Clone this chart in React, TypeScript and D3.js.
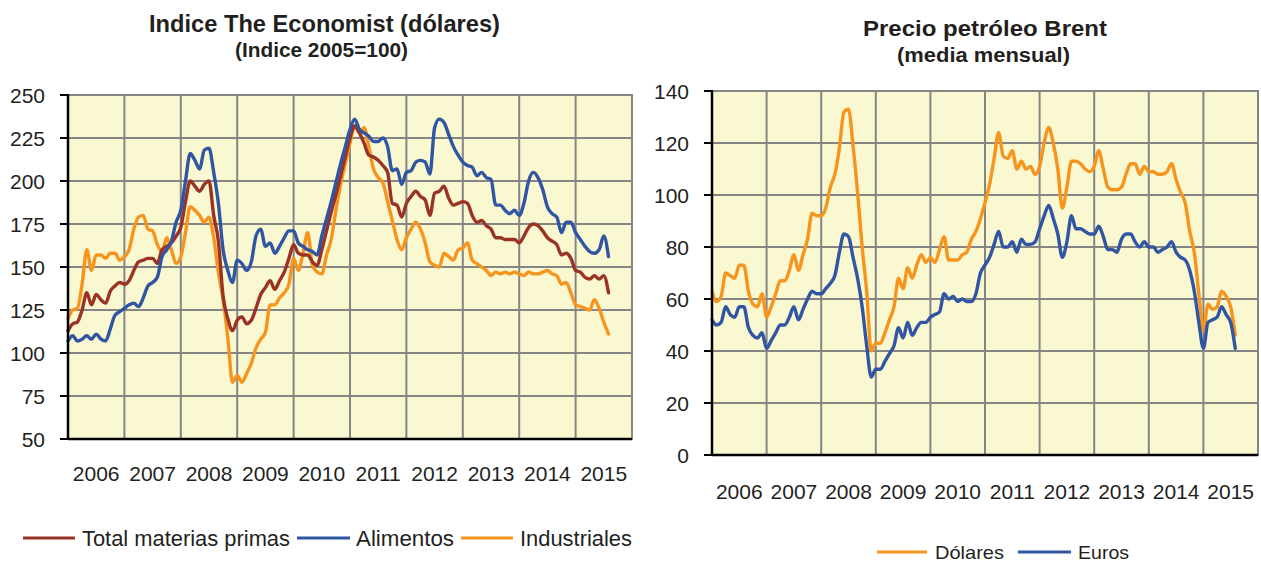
import React from "react";
import * as d3 from "d3";

// Monthly data, Jan 2006 – Aug 2015
const years = ["2006", "2007", "2008", "2009", "2010", "2011", "2012", "2013", "2014", "2015"];
const leftTicks = [50, 75, 100, 125, 150, 175, 200, 225, 250];
const rightTicks = [0, 20, 40, 60, 80, 100, 120, 140];

const totalMP = [113, 117, 118, 125, 135, 128, 134, 131, 129, 136, 139, 141, 140, 142, 148, 153, 154, 155, 155, 152, 160, 162, 164, 168, 173, 188, 200, 197, 194, 198, 200, 180, 165, 133, 120, 113, 119, 121, 117, 119, 126, 134, 138, 142, 137, 142, 147, 155, 163, 158, 157, 157, 153, 151, 160, 171, 182, 192, 203, 214, 225, 232, 228, 222, 215, 214, 212, 209, 205, 187, 186, 179, 187, 191, 194, 191, 189, 180, 193, 194, 197, 190, 186, 187, 188, 187, 180, 176, 177, 174, 172, 167, 167, 166, 166, 166, 164, 168, 173, 175, 174, 171, 167, 165, 163, 157, 158, 155, 148, 147, 144, 143, 145, 143, 145, 135];
const alimentos = [107, 110, 107, 108, 110, 108, 111, 108, 107, 114, 122, 124, 126, 128, 129, 127, 132, 139, 141, 144, 156, 160, 165, 176, 183, 200, 216, 212, 207, 218, 219, 205, 187, 160, 148, 141, 154, 152, 148, 153, 168, 172, 162, 164, 158, 162, 167, 171, 171, 164, 162, 160, 159, 157, 168, 178, 188, 199, 210, 220, 230, 236, 230, 228, 226, 223, 223, 225, 220, 206, 207, 198, 205, 206, 211, 212, 211, 204, 231, 236, 234, 227, 220, 215, 211, 209, 208, 203, 205, 202, 201, 186, 186, 183, 181, 183, 180, 187, 200, 205, 202, 195, 185, 181, 179, 170, 176, 176, 170, 166, 162, 159, 158, 160, 168, 156];
const industriales = [120, 125, 126, 140, 160, 148, 157, 157, 155, 158, 158, 154, 156, 160, 172, 179, 180, 172, 171, 163, 159, 167, 160, 152, 156, 170, 185, 183, 180, 176, 179, 167, 147, 131, 109, 83, 87, 83, 88, 94, 103, 108, 112, 128, 128, 132, 135, 140, 155, 148, 158, 170, 151, 147, 146, 157, 166, 183, 198, 210, 222, 232, 228, 231, 220, 207, 202, 199, 188, 177, 166, 160, 167, 172, 176, 172, 164, 153, 151, 150, 158, 156, 154, 160, 161, 164, 154, 152, 150, 148, 145, 147, 146, 147, 146, 147, 146, 145, 147, 146, 146, 147, 148, 146, 145, 140, 141, 135, 128, 127, 126, 125, 131, 126, 118, 111];

const dolares = [63, 59, 61, 70, 69, 68, 73, 73, 63, 58, 57, 62, 53, 57, 62, 67, 67, 71, 77, 71, 77, 83, 93, 92, 92, 95, 103, 108, 118, 132, 133, 119, 101, 80, 63, 40, 43, 43, 47, 52, 57, 68, 64, 72, 68, 73, 77, 74, 76, 74, 79, 84, 75, 75, 75, 77, 78, 83, 86, 91, 97, 104, 114, 124, 115, 114, 117, 110, 113, 110, 111, 108, 111, 120, 126, 120, 110, 95, 103, 113, 113, 112, 110, 109, 111, 117, 110, 103, 102, 102, 103, 108, 112, 112, 108, 111, 109, 109, 108, 108, 109, 112, 106, 101, 97, 86, 78, 62, 48, 58, 56, 57, 63, 61, 57, 46];
const euros = [52, 50, 51, 57, 54, 53, 57, 57, 49, 46, 45, 47, 41, 44, 47, 50, 50, 53, 57, 52, 56, 60, 63, 62, 62, 64, 66, 69, 78, 85, 84, 76, 68, 57, 42, 30, 33, 33, 36, 39, 42, 49, 45, 51, 46, 49, 51, 51, 53, 54, 55, 62, 60, 61, 59, 60, 59, 59, 62, 70, 73, 76, 81, 86, 80, 80, 82, 78, 83, 81, 81, 82, 87, 92, 96, 91, 85, 76, 82, 92, 87, 87, 86, 85, 85, 88, 84, 79, 79, 78, 83, 85, 85, 82, 80, 82, 80, 80, 78, 79, 80, 82, 78, 76, 75, 71, 63, 51, 41, 51, 52, 53, 57, 54, 51, 41];

const C_TOTAL = "#9a3324";
const C_BLUE = "#2f55a3";
const C_ORANGE = "#f7941e";
const BG = "#faf8d0";
const GRID = "#858585";
const FONT = "'Liberation Sans', Arial, sans-serif";
const INK = "#231f20";

type Series = { values: number[]; color: string };

function Panel(props: {
  x0: number; x1: number; y0: number; y1: number;
  domain: [number, number]; ticks: number[]; series: Series[];
  yearLabelY: number;
}) {
  const { x0, x1, y0, y1, domain, ticks, series, yearLabelY } = props;
  const nYears = years.length;
  const xs = d3.scaleLinear().domain([0, nYears * 12]).range([x0, x1]);
  const ys = d3.scaleLinear().domain(domain).range([y1, y0]);
  const line = d3
    .line<number>()
    .x((_, i) => xs(i))
    .y((d) => ys(d))
    .curve(d3.curveMonotoneX);
  return (
    <g>
      <rect x={x0} y={y0} width={x1 - x0} height={y1 - y0} fill={BG} stroke={GRID} strokeWidth={2} />
      {ticks.map((t) => (
        <line key={"h" + t} x1={x0} x2={x1} y1={ys(t)} y2={ys(t)} stroke={GRID} strokeWidth={2} />
      ))}
      {d3.range(1, nYears + 1).map((k) => (
        <line key={"v" + k} x1={xs(k * 12)} x2={xs(k * 12)} y1={y0} y2={y1} stroke={GRID} strokeWidth={2} />
      ))}
      {series.map((s, i) => (
        <path key={i} d={line(s.values) || ""} fill="none" stroke={s.color} strokeWidth={3.4} strokeLinejoin="round" strokeLinecap="round" />
      ))}
      <line x1={x0} x2={x0} y1={y0 - 1} y2={y1 + 1} stroke="#000" strokeWidth={2.5} />
      <line x1={x0} x2={x1} y1={y1} y2={y1} stroke="#000" strokeWidth={2.5} />
      {ticks.map((t) => (
        <g key={"t" + t}>
          <line x1={x0 - 8} x2={x0} y1={ys(t)} y2={ys(t)} stroke="#000" strokeWidth={2} />
          <text x={x0 - 23} y={ys(t)} dy="0.36em" textAnchor="end" fontSize={21} fill={INK} fontFamily={FONT}>
            {t}
          </text>
        </g>
      ))}
      {years.map((yr, k) => (
        <text key={yr} x={xs(k * 12 + 6)} y={yearLabelY} textAnchor="middle" fontSize={21} fill={INK} fontFamily={FONT}>
          {yr}
        </text>
      ))}
    </g>
  );
}

function LegendItem(props: { x: number; y: number; color: string; label: string; w: number; lineW: number; tx: number; size: number }) {
  const { x, y, color, label, w, lineW, tx, size } = props;
  return (
    <g>
      <line x1={x} x2={x + lineW} y1={y} y2={y} stroke={color} strokeWidth={3} />
      <text x={tx} y={y} dy="0.36em" fontSize={size} fill={INK} fontFamily={FONT} textLength={w} lengthAdjust="spacingAndGlyphs">
        {label}
      </text>
    </g>
  );
}

function Title(props: { x: number; y: number; size: number; w: number; text: string }) {
  const { x, y, size, w, text } = props;
  return (
    <text x={x} y={y} fontWeight="bold" fontSize={size} fontFamily={FONT} fill={INK} textLength={w} lengthAdjust="spacingAndGlyphs">
      {text}
    </text>
  );
}

export default function App() {
  return (
    <div style={{ position: "fixed", left: 0, top: 0 }}>
      <svg width={1261} height={565} style={{ display: "block", background: "#fff" }}>
        <Title x={149} y={32} size={24} w={351} text="Indice The Economist (dólares)" />
        <Title x={235} y={57} size={21} w={173} text="(Indice 2005=100)" />
        <Title x={863} y={36} size={22} w={244} text="Precio petróleo Brent" />
        <Title x={897} y={62} size={20} w={173} text="(media mensual)" />

        <Panel
          x0={68} x1={632} y0={95} y1={439}
          domain={[50, 250]} ticks={leftTicks}
          series={[
            { values: industriales, color: C_ORANGE },
            { values: totalMP, color: C_TOTAL },
            { values: alimentos, color: C_BLUE },
          ]}
          yearLabelY={481}
        />
        <Panel
          x0={712} x1={1258} y0={91} y1={455}
          domain={[0, 140]} ticks={rightTicks}
          series={[
            { values: dolares, color: C_ORANGE },
            { values: euros, color: C_BLUE },
          ]}
          yearLabelY={499}
        />

        <LegendItem x={23} y={538} color={C_TOTAL} label="Total materias primas" w={208} lineW={52} tx={82} size={22} />
        <LegendItem x={297} y={538} color={C_BLUE} label="Alimentos" w={98} lineW={53} tx={356} size={22} />
        <LegendItem x={461} y={538} color={C_ORANGE} label="Industriales" w={112} lineW={52} tx={520} size={22} />
        <LegendItem x={877} y={552} color={C_ORANGE} label="Dólares" w={69} lineW={50} tx={935} size={19} />
        <LegendItem x={1018} y={552} color={C_BLUE} label="Euros" w={51} lineW={53} tx={1078} size={19} />
      </svg>
    </div>
  );
}
